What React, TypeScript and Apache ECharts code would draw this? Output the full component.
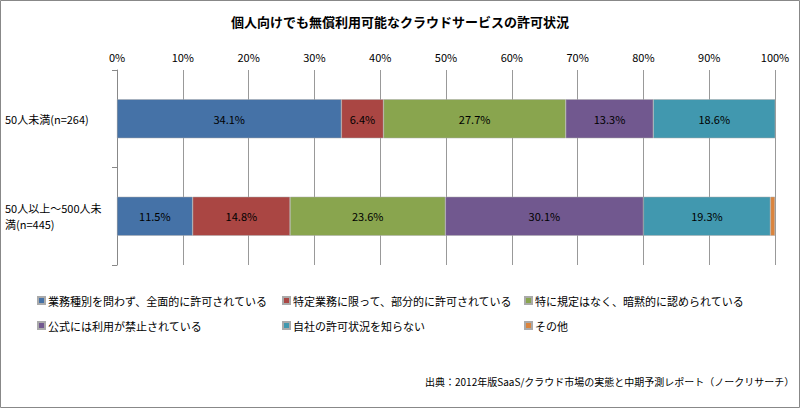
import React, { useEffect, useRef } from "react";
import * as echarts from "echarts";

const categories = ["50人未満(n=264)", "50人以上～500人未\n満(n=445)"];
const seriesNames = [
  "業務種別を問わず、全面的に許可されている",
  "特定業務に限って、部分的に許可されている",
  "特に規定はなく、暗黙的に認められている",
  "公式には利用が禁止されている",
  "自社の許可状況を知らない",
  "その他",
];
const values = [
  [34.1, 11.5],
  [6.4, 14.8],
  [27.7, 23.6],
  [13.3, 30.1],
  [18.6, 19.3],
  [0, 0.7],
];
const colors = ["#4572A7", "#AA4643", "#89A54E", "#71588F", "#4198AF", "#DB843D"];
const legendPos = [
  [32, 290], [277, 290], [519, 290],
  [32, 315], [277, 315], [519, 315],
];

export default function App() {
  const ref = useRef<HTMLDivElement>(null);
  useEffect(() => {
    const chart = echarts.init(ref.current!, null, { renderer: "svg" });
    const font = "'Noto Sans CJK JP', sans-serif";
    chart.setOption({
      animation: false,
      textStyle: { fontFamily: font },
      title: {
        text: "個人向けでも無償利用可能なクラウドサービスの許可状況",
        left: "center", top: 10,
        textStyle: { fontSize: 13, fontWeight: "bold", color: "#000", fontFamily: font },
      },
      graphic: [
        { type: "rect", shape: { x: 0.5, y: 0.5, width: 799, height: 407 }, style: { fill: "none", stroke: "#888", lineWidth: 1 } },
        { type: "text", left: 425, top: 376, style: { text: "出典：2012年版SaaS/クラウド市場の実態と中期予測レポート（ノークリサーチ）", fontSize: 10, fill: "#000", fontFamily: font } },
      ],
      legend: seriesNames.map((n, i) => ({
        data: [n], left: legendPos[i][0], top: legendPos[i][1],
        itemWidth: 7, itemHeight: 7, icon: "rect", itemGap: 4,
        textStyle: { fontSize: 11, color: "#000", fontFamily: font, padding: [0, 0, 0, -2] },
      })),
      grid: { left: 117, right: 25, top: 70, bottom: 143 },
      xAxis: {
        type: "value", position: "top", min: 0, max: 100, interval: 10,
        axisLabel: { formatter: "{value}%", fontSize: 11, color: "#000" },
        splitLine: { lineStyle: { color: "#999" } },
        axisLine: { show: false }, axisTick: { show: false },
      },
      yAxis: {
        type: "category", data: categories, inverse: true,
        axisLine: { lineStyle: { color: "#888" } },
        axisTick: { show: true, length: 5, lineStyle: { color: "#888" } },
        axisLabel: { fontSize: 11, color: "#000", align: "left", margin: 112, lineHeight: 16 },
      },
      series: seriesNames.map((n, i) => ({
        name: n, type: "bar", stack: "s", barWidth: 39,
        data: values[i],
        itemStyle: { color: colors[i], borderColor: "#aaa", borderWidth: 0.5 },
        label: {
          show: i < 5, color: "#000", fontSize: 11,
          formatter: (p: any) => (p.value > 0 ? p.value.toFixed(1) + "%" : ""),
        },
      })),
    });
    return () => chart.dispose();
  }, []);
  return <div ref={ref} style={{ position: "absolute", left: 0, top: 0, width: 800, height: 408 }} />;
}
